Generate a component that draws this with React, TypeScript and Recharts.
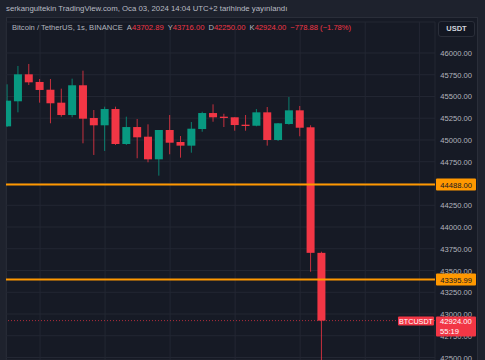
import { ComposedChart, Bar, XAxis, YAxis, CartesianGrid, ReferenceLine } from 'recharts';

const opens = [45157, 45445, 45755, 45667, 45578, 45429, 45287, 45629, 45253, 45169, 45356, 44954, 45149, 45038, 44778, 45115, 44977, 44935, 45126, 45310, 45268, 45261, 45176, 45164, 45318, 45000, 45184, 45341, 45146, 43702.89];
const closes = [45452, 45755, 45663, 45575, 45422, 45287, 45629, 45245, 45169, 45356, 44954, 45149, 45031, 44778, 45115, 44969, 44935, 45130, 45310, 45261, 45253, 45172, 45161, 45318, 45000, 45192, 45341, 45141, 43703, 42924];
const highs = [45640, 45851, 45874, 45701, 45701, 45590, 45705, 45797, 45345, 45383, 45383, 45268, 45241, 45180, 45115, 45287, 45046, 45207, 45325, 45410, 45302, 45261, 45287, 45356, 45379, 45195, 45494, 45391, 45169, 43716];
const lows = [45150, 45318, 45632, 45429, 45192, 45268, 45261, 44962, 44828, 44874, 44943, 44943, 44790, 44744, 44590, 44836, 44797, 44854, 45095, 45210, 45149, 45107, 45107, 45157, 44935, 44989, 45176, 45043, 43486, 42250];

const priceTicks = [42500, 42750, 43000, 43250, 43500, 43750, 44000, 44250, 44500, 44750, 45000, 45250, 45500, 45750, 46000];
// 44500 sits fully under the 44488 level box in the original
const hiddenTicks = [44500];
const timeTicks = [3, 9, 15, 21, 27, 33, 38];
const levels = [44488, 43395.99];
const lastPrice = 42924;
const countdown = '55:19';

const publishedText = 'serkangultekin TradingView.com, Oca 03, 2024 14:04 UTC+2 tarihinde yayınlandı';
const symbolText = 'Bitcoin / TetherUS, 1s, BINANCE';
const ohlcLabels = [
  ['A', '43702.89'],
  ['Y', '43716.00'],
  ['D', '42250.00'],
  ['K', '42924.00'],
];
const changeText = '−778.88 (−1.78%)';

const data = opens.map((o, i) => ({
  i,
  open: o,
  close: closes[i],
  high: highs[i],
  low: lows[i],
  range: [lows[i], highs[i]],
}));

const UP = '#089981';
const DOWN = '#f23645';
const FONT = '"Liberation Sans", Arial, sans-serif';
const X_DOMAIN = [-0.14, 39.44];
const Y_DOMAIN = [42471.3, 46356.3];
const MARGIN = { top: 22, right: 7, bottom: 0, left: 6 };

const Candle = (props: any) => {
  const { x, y, width, height, payload } = props;
  const { open, close, high, low } = payload;
  const top = height < 0 ? y + height : y;
  const h = Math.abs(height);
  const ratio = h / (high - low);
  const bodyTop = top + (high - Math.max(open, close)) * ratio;
  const bodyH = Math.max(1, Math.abs(open - close) * ratio);
  const color = close >= open ? UP : DOWN;
  const cx = x + width / 2;
  return (
    <g>
      <line x1={cx} x2={cx} y1={top} y2={top + h} stroke={color} strokeWidth={1} strokeOpacity={0.8} />
      <rect x={x} y={bodyTop} width={width} height={bodyH} fill={color} />
    </g>
  );
};

const PriceTick = (props: any) => {
  const { y, payload } = props;
  if (hiddenTicks.includes(payload.value)) return <g />;
  return (
    <text x={472} y={y} dy={3} textAnchor="end" fill="#b2b5be" fontSize={7.6} fontFamily={FONT}>
      {payload.value.toFixed(2)}
    </text>
  );
};

const LevelLabel = (value: number) => (props: any) => {
  const { viewBox } = props;
  const x = viewBox.x + viewBox.width;
  const y = viewBox.y;
  return (
    <g>
      <rect x={x + 1} y={y - 6} width={40} height={12} fill="#ff9800" rx={1} />
      <text x={x + 37} y={y + 3} textAnchor="end" fill="#131722" fontSize={7.6} fontFamily={FONT}>
        {value.toFixed(2)}
      </text>
    </g>
  );
};

const LastLabel = (props: any) => {
  const { viewBox } = props;
  const x = viewBox.x + viewBox.width;
  const y = viewBox.y;
  return (
    <g>
      <rect x={x - 37} y={y - 4} width={36} height={9} fill={DOWN} rx={1} />
      <text x={x - 19} y={y + 3} textAnchor="middle" fill="#fff" fontSize={7.2} fontFamily={FONT}>
        BTCUSDT
      </text>
      <rect x={x + 1} y={y - 4} width={40} height={20} fill={DOWN} rx={1} />
      <text x={x + 5} y={y + 3} fill="#fff" fontSize={7.6} fontFamily={FONT}>
        {lastPrice.toFixed(2)}
      </text>
      <text x={x + 5} y={y + 13} fill="#fff" fontSize={7.6} fontFamily={FONT}>
        {countdown}
      </text>
    </g>
  );
};

export default function App() {
  return (
    <div style={{ position: 'absolute', left: 0, top: 0, width: 485, height: 360, background: '#1e222d', overflow: 'hidden', fontFamily: FONT }}>
      <div style={{ position: 'absolute', left: 6, top: 4, fontSize: 7.8, color: '#b8bbc3', whiteSpace: 'nowrap' }}>
        {publishedText}
      </div>
      <div style={{ position: 'absolute', left: 6, top: 17, width: 472, height: 343, background: '#161a25', borderLeft: '1px solid #2a2e39', borderTop: '1px solid #2a2e39', borderRight: '1px solid #2a2e39', boxSizing: 'border-box' }} />
      {/* candles, grid and price scale */}
      <div style={{ position: 'absolute', left: 0, top: 0 }}>
        <ComposedChart width={485} height={360} data={data} margin={MARGIN}>
          <CartesianGrid stroke="#232733" strokeWidth={1} />
          <XAxis dataKey="i" type="number" domain={X_DOMAIN} ticks={timeTicks} allowDataOverflow hide />
          <YAxis
            orientation="right"
            domain={Y_DOMAIN}
            ticks={priceTicks}
            allowDataOverflow
            axisLine={false}
            tickLine={false}
            width={43}
            tick={<PriceTick />}
            interval={0}
          />
          <Bar dataKey="range" barSize={8} shape={<Candle />} isAnimationActive={false} />
        </ComposedChart>
      </div>
      {/* horizontal levels and their scale labels, drawn above the price scale */}
      <div style={{ position: 'absolute', left: 0, top: 0 }}>
        <ComposedChart width={485} height={360} data={data} margin={MARGIN}>
          <XAxis dataKey="i" type="number" domain={X_DOMAIN} allowDataOverflow hide />
          <YAxis orientation="right" domain={Y_DOMAIN} allowDataOverflow width={43} tick={false} axisLine={false} tickLine={false} />
          <ReferenceLine y={lastPrice} stroke={DOWN} strokeOpacity={0.7} strokeDasharray="1 2" label={<LastLabel />} />
          {levels.map((lv) => (
            <ReferenceLine key={lv} y={lv} stroke="#ff9800" strokeWidth={2} label={LevelLabel(lv)} />
          ))}
        </ComposedChart>
      </div>
      <div style={{ position: 'absolute', left: 12, top: 23, fontSize: 7.6, color: '#b2b5be', whiteSpace: 'nowrap' }}>
        <span>{symbolText}</span>
        {ohlcLabels.map(([k, v]) => (
          <span key={k} style={{ marginLeft: 4 }}>
            {k}
            <span style={{ color: DOWN }}>{v}</span>
          </span>
        ))}
        <span style={{ marginLeft: 4, color: DOWN }}>{changeText}</span>
      </div>
      <div style={{ position: 'absolute', left: 438, top: 21, width: 37, height: 16, boxSizing: 'border-box', border: '1px solid #2a2e39', borderRadius: 3, background: '#131722', color: '#d1d4dc', fontSize: 7.5, fontWeight: 'bold', lineHeight: '14px', textAlign: 'center' }}>
        USDT
      </div>
    </div>
  );
}
